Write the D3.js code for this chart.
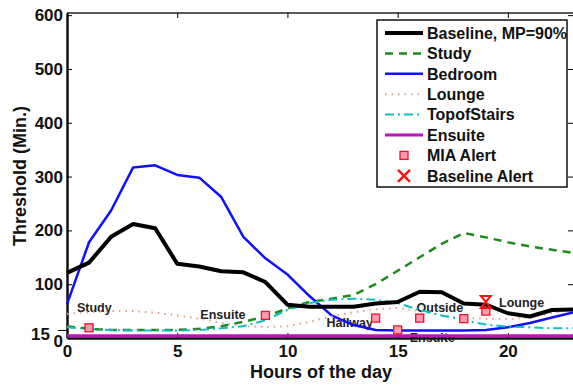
<!DOCTYPE html>
<html>

<head>
    <meta charset="utf-8">
    <style>
        body {
            margin: 0;
            background: white;
        }

        svg {
            display: block;
            font-family: 'Liberation Sans', Arial, Helvetica, sans-serif;
        }

        .axis text {
            font-size: 17px;
            font-weight: bold;
            fill: #111;
        }

        .axis-title {
            font-size: 18px;
            font-weight: bold;
            fill: #111;
        }

        .note {
            font-size: 12.5px;
            font-weight: bold;
            fill: #222;
        }

        .legend-text {
            font-size: 16px;
            font-weight: bold;
            fill: #111;
        }
    </style>
</head>

<body>
    <svg width="573" height="385"></svg>

    <script src="https://d3js.org/d3.v7.min.js"></script>
    <script>
        // hourly thresholds (minutes)
        let hours = [0, 1, 2, 3, 4, 5, 6, 7, 8, 9, 10, 11, 12, 13, 14, 15, 16, 17, 18, 19, 20, 21, 22, 23]
        let baseline = [121, 140, 188, 212, 204, 138, 133, 124, 122, 104, 62, 58, 58, 58, 64, 67, 86, 85, 64, 62, 46, 40, 52, 53]
        let study = [22, 17, 15, 15, 15, 15, 17, 22, 30, 40, 55, 67, 73, 80, 100, 125, 150, 175, 195, 187, 178, 170, 164, 158]
        let bedroom = [63, 178, 237, 317, 321, 303, 298, 262, 188, 148, 118, 78, 42, 24, 15, 14, 14, 14, 14, 15, 20, 28, 38, 48]
        let lounge = [45, 48, 50, 50, 47, 42, 36, 28, 22, 20, 22, 30, 40, 48, 53, 56, 50, 42, 37, 36, 35, 38, 46, 54]
        let topOfStairs = [20, 17, 15, 14, 14, 14, 15, 18, 22, 33, 52, 65, 71, 73, 71, 65, 52, 42, 33, 25, 21, 20, 18, 18]
        let ensuite = [4, 4, 4, 4, 4, 4, 4, 4, 4, 4, 4, 4, 4, 4, 4, 4, 4, 4, 4, 4, 4, 4, 4, 4]

        let miaHours = [1, 9, 14, 15, 16, 18, 19]
        let miaValues = [19, 42, 37, 15, 37, 36, 50]
        let alertHours = [19]
        let alertValues = [67]

        let noteLabels = ["Study", "Ensuite", "Hallway", "Outside", "Lounge", "Ensuite"]
        let noteHours = [0.45, 6.05, 11.77, 15.86, 19.6, 15.55]
        let noteValues = [56, 44, 28, 57, 66, 0]

        let xTicks = [0, 5, 10, 15, 20]
        let yTicks = [0, 15, 100, 200, 300, 400, 500, 600]

        let seriesNames = ["Baseline, MP=90%", "Study", "Bedroom", "Lounge", "TopofStairs", "Ensuite"]

        let svg = d3.select("svg")

        let x = d3.scaleLinear().domain([0, 23]).range([67, 574])
        let y = d3.scaleLinear().domain([0, 604]).range([338, 13])

        // annotations sit under the lines
        svg.selectAll(".note")
            .data(noteLabels)
            .join("text")
            .attr("class", "note")
            .attr("x", (d, i) => x(noteHours[i]))
            .attr("y", (d, i) => y(noteValues[i]))
            .attr("dy", "0.35em")
            .text(d => d)

        // frame
        svg.append("line")
            .attr("x1", 67).attr("x2", 574)
            .attr("y1", 13).attr("y2", 13)
            .style("stroke", "#222").style("stroke-width", 1.5)

        let xAxis = svg.append("g")
            .attr("class", "axis")
            .attr("transform", "translate(0,338)")
            .call(d3.axisBottom(x).tickValues(xTicks).tickSizeInner(-5).tickSizeOuter(0).tickPadding(7))
        xAxis.select(".domain").style("stroke", "#111").style("stroke-width", 2.5)

        svg.append("g")
            .attr("transform", "translate(0,13)")
            .call(d3.axisTop(x).tickValues(xTicks).tickSizeInner(-5).tickSizeOuter(0).tickFormat(""))
            .select(".domain").remove()

        let yAxis = svg.append("g")
            .attr("class", "axis")
            .attr("transform", "translate(67,0)")
            .call(d3.axisLeft(y).tickValues(yTicks).tickSizeInner(-5).tickSizeOuter(0).tickPadding(4))
        yAxis.select(".domain").style("stroke", "#111").style("stroke-width", 2.5)
        yAxis.selectAll(".tick")
            .filter(d => d === 15)
            .call(t => t.select("line").attr("x2", -9))
            .call(t => t.select("text").attr("x", -17).attr("dy", "0.55em"))
        yAxis.selectAll(".tick")
            .filter(d => d === 0)
            .call(t => t.select("line").remove())
            .call(t => t.select("text").attr("dy", "0.5em"))

        svg.append("g")
            .attr("transform", "translate(574,0)")
            .call(d3.axisRight(y).tickValues(yTicks.slice(2)).tickSizeInner(-6).tickSizeOuter(0).tickFormat(""))

        svg.append("text")
            .attr("class", "axis-title")
            .attr("x", 321)
            .attr("y", 378)
            .attr("text-anchor", "middle")
            .text("Hours of the day")

        svg.append("text")
            .attr("class", "axis-title")
            .attr("transform", "translate(26,176) rotate(-90)")
            .attr("text-anchor", "middle")
            .text("Threshold (Min.)")

        let line = d3.line()
            .x((d, i) => x(hours[i]))
            .y(d => y(d))

        let styles = [
            { values: baseline, color: "#000", width: 4, dash: null },
            { values: study, color: "#1c8a1c", width: 2.5, dash: "8,6" },
            { values: bedroom, color: "#1010ff", width: 2.5, dash: null },
            { values: lounge, color: "#d9a38c", width: 2, dash: "1.5,5" },
            { values: topOfStairs, color: "#10bfbf", width: 2, dash: "9,4,2,4" },
            { values: ensuite, color: "#bf10bf", width: 3, dash: null }
        ]

        // draw in legend order so later ones land on top, baseline last
        let drawOrder = [1, 2, 3, 4, 0, 5]
        drawOrder.forEach(k => {
            let s = styles[k]
            svg.append("path")
                .attr("d", line(s.values))
                .style("fill", "none")
                .style("stroke", s.color)
                .style("stroke-width", s.width)
                .style("stroke-dasharray", s.dash)
                .style("stroke-linejoin", "round")
        })

        svg.selectAll(".mia")
            .data(miaHours)
            .join("rect")
            .attr("class", "mia")
            .attr("x", (d, i) => x(d) - 4)
            .attr("y", (d, i) => y(miaValues[i]) - 4)
            .attr("width", 8)
            .attr("height", 8)
            .style("fill", "#ff9aae")
            .style("stroke", "#f01030")
            .style("stroke-width", 1.3)

        svg.selectAll(".alert")
            .data(alertHours)
            .join("path")
            .attr("class", "alert")
            .attr("transform", (d, i) => "translate(" + x(d) + "," + y(alertValues[i]) + ")")
            .attr("d", "M-5,-6L5,-6L-5,6L5,6Z")
            .style("fill", "none")
            .style("stroke", "#ff1010")
            .style("stroke-width", 2)

        // legend
        let legend = svg.append("g")
        legend.append("rect")
            .attr("x", 377).attr("y", 20)
            .attr("width", 190).attr("height", 167)
            .style("fill", "white")
            .style("stroke", "#111")
            .style("stroke-width", 1.5)

        let rowY = i => 33 + i * 20.4

        styles.forEach((s, i) => {
            legend.append("line")
                .attr("x1", 385).attr("x2", 423)
                .attr("y1", rowY(i)).attr("y2", rowY(i))
                .style("stroke", s.color)
                .style("stroke-width", s.width)
                .style("stroke-dasharray", s.dash)
        })

        legend.append("rect")
            .attr("x", 400).attr("y", rowY(6) - 4)
            .attr("width", 8).attr("height", 8)
            .style("fill", "#ff9aae")
            .style("stroke", "#f01030")
            .style("stroke-width", 1.3)

        legend.append("path")
            .attr("transform", "translate(404," + rowY(7) + ")")
            .attr("d", "M-6,-6L6,6M-6,6L6,-6")
            .style("stroke", "#ff1010")
            .style("stroke-width", 2.5)

        let legendLabels = seriesNames.concat(["MIA Alert", "Baseline Alert"])
        legend.selectAll(".legend-text")
            .data(legendLabels)
            .join("text")
            .attr("class", "legend-text")
            .attr("x", 427)
            .attr("y", (d, i) => rowY(i))
            .attr("dy", "0.36em")
            .text(d => d)
    </script>
</body>

</html>
